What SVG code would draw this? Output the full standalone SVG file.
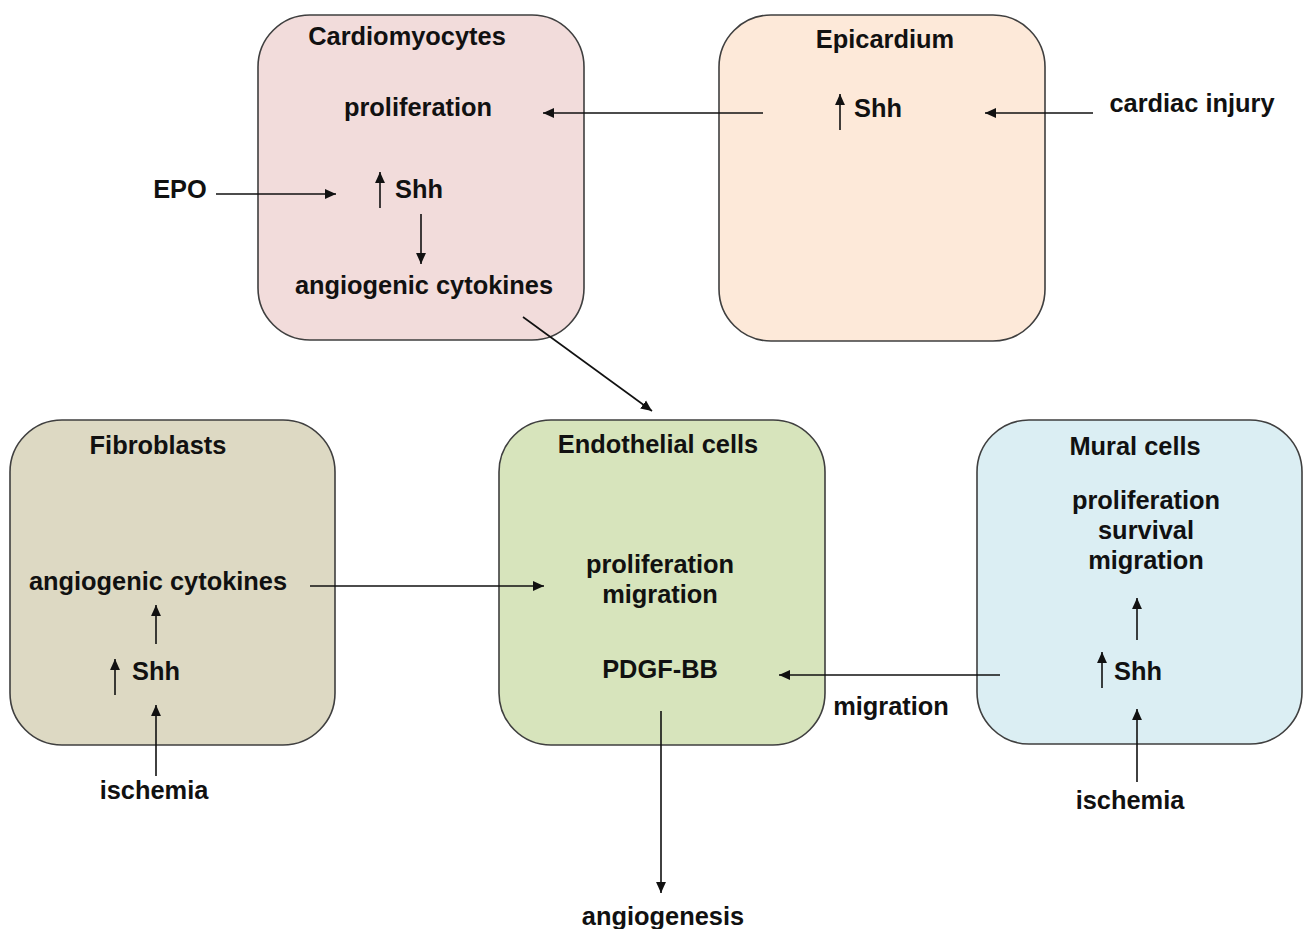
<svg xmlns="http://www.w3.org/2000/svg" width="1303" height="929" viewBox="0 0 1303 929">
<style>
.box{stroke:#3f3f3f;stroke-width:1.6}
.t{font-family:"Liberation Sans",Arial,sans-serif;font-weight:bold;font-size:25.4px;fill:#111;text-anchor:middle}
.ts{text-anchor:start}
.c{stroke:#111;stroke-width:1.6;fill:none;marker-end:url(#ah)}
</style>
<defs>
<marker id="ah" viewBox="0 0 10 10" refX="10" refY="5" markerWidth="11" markerHeight="11" markerUnits="userSpaceOnUse" orient="auto">
<path d="M0,0.5 L10,5 L0,9.5 Z" fill="#111"/>
</marker>
</defs>
<rect width="1303" height="929" fill="#fff"/>
<g id="cardiomyocytes">
<rect class="box" x="258" y="15" width="326" height="325" rx="52" fill="#f2dcdb"/>
<text class="t" x="407" y="45">Cardiomyocytes</text>
<text class="t" x="418" y="116">proliferation</text>
<text class="t ts" x="395" y="198">Shh</text>
<text class="t" x="424" y="294">angiogenic cytokines</text>
</g>
<g id="epicardium">
<rect class="box" x="719" y="15" width="326" height="326" rx="52" fill="#fde9d9"/>
<text class="t" x="885" y="48">Epicardium</text>
<text class="t ts" x="854" y="117">Shh</text>
</g>
<g id="fibroblasts">
<rect class="box" x="10" y="420" width="325" height="325" rx="52" fill="#ddd9c3"/>
<text class="t" x="158" y="454">Fibroblasts</text>
<text class="t" x="158" y="590">angiogenic cytokines</text>
<text class="t ts" x="132" y="680">Shh</text>
</g>
<g id="endothelial">
<rect class="box" x="499" y="420" width="326" height="325" rx="52" fill="#d7e4bc"/>
<text class="t" x="658" y="453">Endothelial cells</text>
<text class="t" x="660" y="573">proliferation</text>
<text class="t" x="660" y="603">migration</text>
<text class="t" x="660" y="678">PDGF-BB</text>
</g>
<g id="mural">
<rect class="box" x="977" y="420" width="325" height="324" rx="52" fill="#dbeef3"/>
<text class="t" x="1135" y="455">Mural cells</text>
<text class="t" x="1146" y="509">proliferation</text>
<text class="t" x="1146" y="539">survival</text>
<text class="t" x="1146" y="569">migration</text>
<text class="t ts" x="1114" y="680">Shh</text>
</g>
<g id="labels">
<text class="t" x="180" y="198">EPO</text>
<text class="t" x="1192" y="112">cardiac injury</text>
<text class="t" x="154" y="799">ischemia</text>
<text class="t" x="1130" y="809">ischemia</text>
<text class="t" x="891" y="715">migration</text>
<text class="t" x="663" y="925">angiogenesis</text>
</g>
<g id="connectors">
<line class="c" x1="763" y1="113" x2="543" y2="113"/>
<line class="c" x1="1093" y1="113" x2="985" y2="113"/>
<line class="c" x1="216" y1="194" x2="336" y2="194"/>
<line class="c" x1="380" y1="208" x2="380" y2="172"/>
<line class="c" x1="421" y1="214" x2="421" y2="264"/>
<line class="c" x1="840" y1="130" x2="840" y2="94"/>
<line class="c" x1="523" y1="317" x2="652" y2="411"/>
<line class="c" x1="310" y1="586" x2="544" y2="586"/>
<line class="c" x1="156" y1="644" x2="156" y2="605"/>
<line class="c" x1="115" y1="695" x2="115" y2="659"/>
<line class="c" x1="156" y1="776" x2="156" y2="705"/>
<line class="c" x1="1000" y1="675" x2="779" y2="675"/>
<line class="c" x1="661" y1="711" x2="661" y2="893"/>
<line class="c" x1="1137" y1="640" x2="1137" y2="598"/>
<line class="c" x1="1102" y1="688" x2="1102" y2="652"/>
<line class="c" x1="1137" y1="782" x2="1137" y2="709"/>
</g>
</svg>
